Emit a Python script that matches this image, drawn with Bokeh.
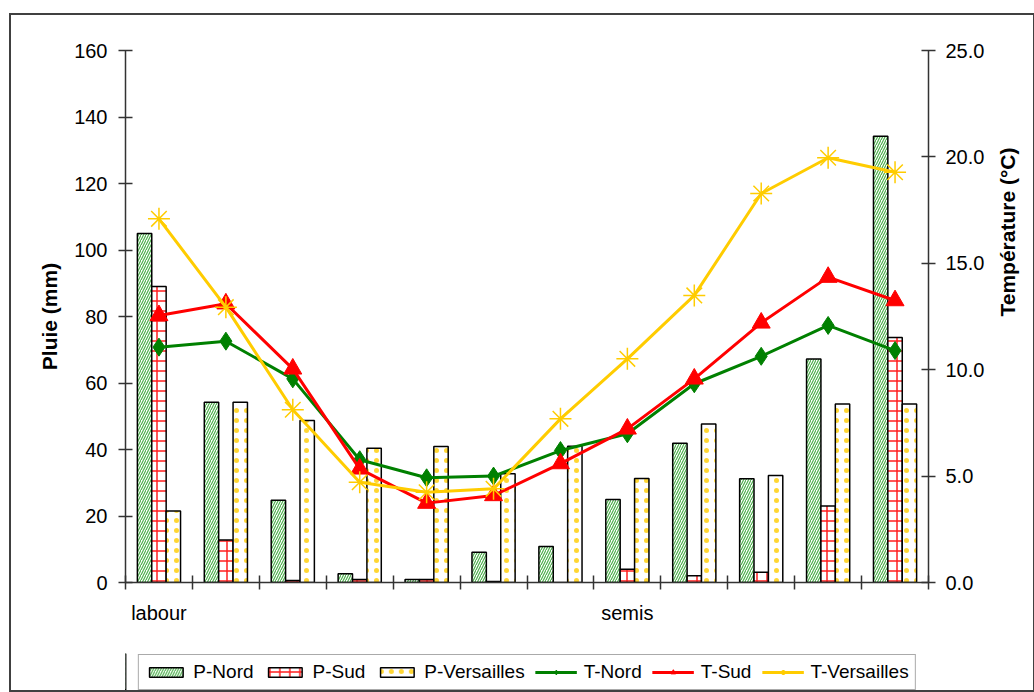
import math
from bokeh.plotting import figure
from bokeh.layouts import column
from bokeh.models import (ColumnDataSource, Range1d, LinearAxis, FixedTicker,
                          NumeralTickFormatter, Legend, LegendItem)
from bokeh.transform import dodge
from bokeh.embed import file_html
from bokeh.resources import INLINE

# ---- data ----
periodes = list(range(12))
x_labels = {0: "labour", 7: "semis"}
p_nord = [105.0, 54.2, 24.7, 2.6, 0.9, 9.1, 10.8, 25.0, 41.9, 31.2, 67.2, 134.2]
p_sud = [89.0, 12.8, 0.6, 0.9, 0.9, 0.3, 0.0, 4.0, 2.0, 3.1, 23.0, 73.7]
p_vers = [21.5, 54.2, 48.7, 40.4, 40.9, 32.7, 41.0, 31.3, 47.7, 32.2, 53.7, 53.7]
t_nord = [11.06, 11.34, 9.57, 5.77, 4.92, 5.0, 6.2, 6.99, 9.34, 10.63, 12.08, 10.9]
t_sud = [12.55, 13.1, 10.04, 5.34, 3.73, 4.09, 5.59, 7.22, 9.57, 12.2, 14.35, 13.25]
t_vers = [17.09, 12.94, 8.12, 4.71, 4.24, 4.4, 7.69, 10.51, 13.49, 18.28, 19.96, 19.28]
pluie_ticks = list(range(0, 161, 20))
temp_ticks = [0, 5, 10, 15, 20, 25]

FONT = "Liberation Sans"
AX = "#333333"

# ---- styles ----
st_pn = dict(fill_color="white", line_color="black", line_width=1.5,
             hatch_pattern="right_diagonal_line", hatch_color="#4cb04c",
             hatch_scale=5, hatch_weight=1.2)
st_ps = dict(fill_color="white", line_color="black", line_width=1.5,
             hatch_pattern="cross", hatch_color="#ff2020",
             hatch_scale=10, hatch_weight=1.5)
st_pv = dict(fill_color="white", line_color="black", line_width=1.5,
             hatch_pattern="dot", hatch_color="#ffcc00", hatch_alpha=0.8,
             hatch_scale=10, hatch_weight=0.6)
ln_n = dict(line_color="#008000", line_width=3)
mk_n = dict(marker="diamond", size=18, fill_color="#008000", line_color="#008000")
ln_s = dict(line_color="#ff0000", line_width=3)
mk_s = dict(marker="triangle", size=18, fill_color="#ff0000", line_color="#ff0000")
ln_v = dict(line_color="#ffcc00", line_width=3)
mk_v = dict(marker="asterisk", size=22, line_color="#ffcc00", line_width=1.5)

src = ColumnDataSource(dict(x=periodes, p_nord=p_nord, p_sud=p_sud, p_vers=p_vers,
                            t_nord=t_nord, t_sud=t_sud, t_vers=t_vers))

p = figure(frame_width=803, frame_height=532, output_backend="svg", toolbar_location=None,
           x_range=Range1d(-0.5, 11.5), y_range=Range1d(0, 160),
           min_border_left=114, min_border_right=101, min_border_top=35,
           min_border_bottom=71)
p.extra_y_ranges = {"temp": Range1d(0, 25)}
p.xgrid.visible = False
p.ygrid.visible = False
p.outline_line_color = None
p.background_fill_color = "white"
p.border_fill_color = "white"

bw = 0.215
p.vbar(x=dodge("x", -bw), top="p_nord", width=bw, source=src, **st_pn)
p.vbar(x=dodge("x", 0), top="p_sud", width=bw, source=src, **st_ps)
p.vbar(x=dodge("x", bw), top="p_vers", width=bw, source=src, **st_pv)

p.line("x", "t_nord", source=src, y_range_name="temp", **ln_n)
p.scatter("x", "t_nord", source=src, y_range_name="temp", **mk_n)
p.line("x", "t_sud", source=src, y_range_name="temp", **ln_s)
p.scatter("x", "t_sud", source=src, y_range_name="temp", **mk_s)
p.line("x", "t_vers", source=src, y_range_name="temp", **ln_v)
p.scatter("x", "t_vers", source=src, y_range_name="temp", **mk_v)

# left axis
yax = p.yaxis[0]
yax.ticker = FixedTicker(ticks=pluie_ticks, minor_ticks=[])
yax.axis_label = "Pluie (mm)"
yax.axis_label_text_font = FONT
yax.axis_label_text_font_style = "bold"
yax.axis_label_text_font_size = "21px"
yax.axis_label_text_color = "black"
yax.axis_label_standoff = 10
yax.major_label_text_font = FONT
yax.major_label_text_font_size = "20px"
yax.major_label_text_color = "black"
yax.major_label_standoff = 11
yax.major_tick_in = 7
yax.major_tick_out = 7
yax.axis_line_color = AX
yax.axis_line_width = 1.5
yax.major_tick_line_color = AX
yax.major_tick_line_width = 1.5

# right axis
rax = LinearAxis(y_range_name="temp", ticker=FixedTicker(ticks=temp_ticks, minor_ticks=[]),
                 formatter=NumeralTickFormatter(format="0.0"))
rax.axis_label = "Température (°C)"
rax.axis_label_text_font = FONT
rax.axis_label_text_font_style = "bold"
rax.axis_label_text_font_size = "21px"
rax.axis_label_text_color = "black"
rax.axis_label_standoff = 20
if "axis_label_orientation" in LinearAxis.properties():
    rax.axis_label_orientation = math.pi / 2
rax.major_label_text_font = FONT
rax.major_label_text_font_size = "20px"
rax.major_label_text_color = "black"
rax.major_label_standoff = 10
rax.major_tick_in = 7
rax.major_tick_out = 7
rax.axis_line_color = AX
rax.axis_line_width = 1.5
rax.major_tick_line_color = AX
rax.major_tick_line_width = 1.5
p.add_layout(rax, "right")

# bottom axis
xax = p.xaxis[0]
xax.ticker = FixedTicker(ticks=list(x_labels.keys()),
                         minor_ticks=[i - 0.5 for i in range(13)])
xax.major_label_overrides = {k: v for k, v in x_labels.items()}
xax.major_label_text_font = FONT
xax.major_label_text_font_size = "20px"
xax.major_label_text_color = "black"
xax.major_label_standoff = 12
xax.major_tick_in = 0
xax.major_tick_out = 0
xax.minor_tick_in = 7
xax.minor_tick_out = 7
xax.minor_tick_line_color = AX
xax.minor_tick_line_width = 1.5
xax.axis_line_color = AX
xax.axis_line_width = 1.5

# ---- legend strip below the chart: key renderers share the data but sit
# outside this strip's ranges, so only the legend is visible ----
p2 = figure(frame_width=803, frame_height=37, output_backend="svg", toolbar_location=None,
            x_range=Range1d(100, 101), y_range=Range1d(100, 101),
            x_axis_location=None, y_axis_location=None,
            min_border_left=114, min_border_right=101, min_border_top=0,
            min_border_bottom=0)
p2.outline_line_color = None
p2.grid.visible = False
p2.background_fill_color = "white"
p2.border_fill_color = "white"

k_pn = p2.vbar(x="x", top="p_nord", width=bw, source=src, **st_pn)
k_ps = p2.vbar(x="x", top="p_sud", width=bw, source=src, **st_ps)
k_pv = p2.vbar(x="x", top="p_vers", width=bw, source=src, **st_pv)
k_ln = p2.line("x", "t_nord", source=src, **ln_n)
k_mn = p2.scatter("x", "t_nord", source=src, **mk_n)
k_ls = p2.line("x", "t_sud", source=src, **ln_s)
k_ms = p2.scatter("x", "t_sud", source=src, **mk_s)
k_lv = p2.line("x", "t_vers", source=src, **ln_v)
k_mv = p2.scatter("x", "t_vers", source=src, **mk_v)

legend = Legend(items=[
    LegendItem(label="P-Nord", renderers=[k_pn]),
    LegendItem(label="P-Sud", renderers=[k_ps]),
    LegendItem(label="P-Versailles", renderers=[k_pv]),
    LegendItem(label="T-Nord", renderers=[k_ln, k_mn]),
    LegendItem(label="T-Sud", renderers=[k_ls, k_ms]),
    LegendItem(label="T-Versailles", renderers=[k_lv, k_mv]),
], orientation="horizontal", location="center",
    border_line_color="#555555", border_line_width=1.5,
    padding=6, spacing=10, label_standoff=7, glyph_width=42, glyph_height=12,
    label_height=22, label_text_font=FONT, label_text_font_size="19px",
    label_text_color="black", margin=0, background_fill_alpha=1.0)
p2.add_layout(legend, "center")

layout = column(p, p2, spacing=0,
                styles={"border": "2px solid #404040", "margin-top": "13px",
                        "margin-left": "9px", "background-color": "white"})

open("out.html", "w").write(file_html(layout, INLINE))
